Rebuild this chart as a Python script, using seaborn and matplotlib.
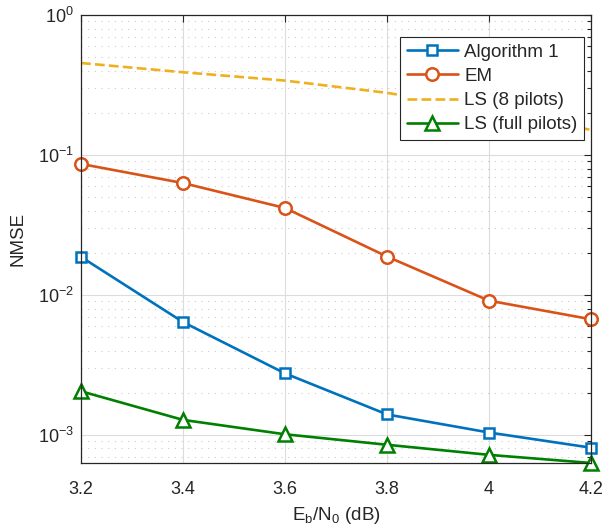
import numpy as np
import pandas as pd
import matplotlib
matplotlib.use("Agg")
import matplotlib.pyplot as plt
import seaborn as sns
from matplotlib.ticker import LogLocator, NullFormatter, FixedLocator

ebn0 = [3.2, 3.4, 3.6, 3.8, 4.0, 4.2]
nmse_alg1 = [0.0187, 0.0064, 0.00275, 0.00140, 0.00104, 0.00081]
nmse_em = [0.0863, 0.063, 0.0418, 0.0188, 0.0091, 0.0067]
nmse_ls8 = [0.454, 0.39, 0.34, 0.278, 0.21, 0.151]
nmse_lsfull = [0.00205, 0.00128, 0.00101, 0.00085, 0.00072, 0.00063]

series = [
    ("Algorithm 1", nmse_alg1, "#0072BD", "s", "-", 7),
    ("EM", nmse_em, "#D95319", "o", "-", 9),
    ("LS (8 pilots)", nmse_ls8, "#EDB120", None, "--", 0),
    ("LS (full pilots)", nmse_lsfull, "#008000", "^", "-", 9.5),
]

sns.set_style("white")
plt.rcParams["font.family"] = ["Liberation Sans", "DejaVu Sans"]
plt.rcParams["mathtext.fontset"] = "custom"
plt.rcParams["mathtext.rm"] = "Liberation Sans"
plt.rcParams["mathtext.it"] = "Liberation Sans"

fig = plt.figure(figsize=(6.1, 5.29), dpi=100)
ax = fig.add_axes([0.1328, 0.1248, 0.969 - 0.1328, 0.9716 - 0.1248])

for name, vals, color, mk, ls, ms in series:
    df = pd.DataFrame({"x": ebn0, "y": vals})
    sns.lineplot(data=df, x="x", y="y", ax=ax, color=color, linestyle=ls,
                 linewidth=1.9, marker=mk, markersize=ms,
                 markerfacecolor="white", markeredgecolor=color,
                 markeredgewidth=1.8, label=name, clip_on=False,
                 dashes=False if ls == "-" else (4, 3))

ax.set_yscale("log")
ax.set_xlim(3.2, 4.2)
ax.set_ylim(6.3e-4, 1)
ax.xaxis.set_major_locator(FixedLocator(ebn0))
ax.set_xticklabels(["3.2", "3.4", "3.6", "3.8", "4", "4.2"])
ax.yaxis.set_major_locator(LogLocator(base=10, numticks=10))
ax.yaxis.set_minor_locator(LogLocator(base=10, subs=np.arange(2, 10), numticks=20))
ax.yaxis.set_minor_formatter(NullFormatter())

ax.grid(True, which="major", color="#dcdcdc", linewidth=0.8, linestyle="-")
ax.grid(True, which="minor", axis="y", color="#cccccc", linewidth=0.8, linestyle=(0, (1, 5)))
ax.set_axisbelow(True)

ax.tick_params(which="both", direction="in", top=True, right=True,
               labelsize=13, colors="#262626")
ax.tick_params(axis="x", pad=13)
ax.tick_params(axis="y", pad=5)
ax.tick_params(which="major", length=5, width=0.8)
ax.tick_params(which="minor", length=3, width=0.8)
for s in ax.spines.values():
    s.set_color("#262626")
    s.set_linewidth(0.9)
    s.set_zorder(5)

ax.set_xlabel(r"$\mathdefault{E_b/N_0}$ (dB)", fontsize=13.5, color="#262626", labelpad=5)
ax.set_ylabel("NMSE", fontsize=13.5, color="#262626", labelpad=8)

leg = ax.legend(loc="upper right", fontsize=13.5, frameon=True, fancybox=False,
                edgecolor="#262626", framealpha=1, handlelength=2.7,
                borderpad=0.35, labelspacing=0.38, handletextpad=0.35,
                borderaxespad=0.0, bbox_to_anchor=(0.986, 0.951))
leg.get_frame().set_linewidth(0.8)
leg.set_zorder(6)

fig.savefig("out.png", dpi=100)
